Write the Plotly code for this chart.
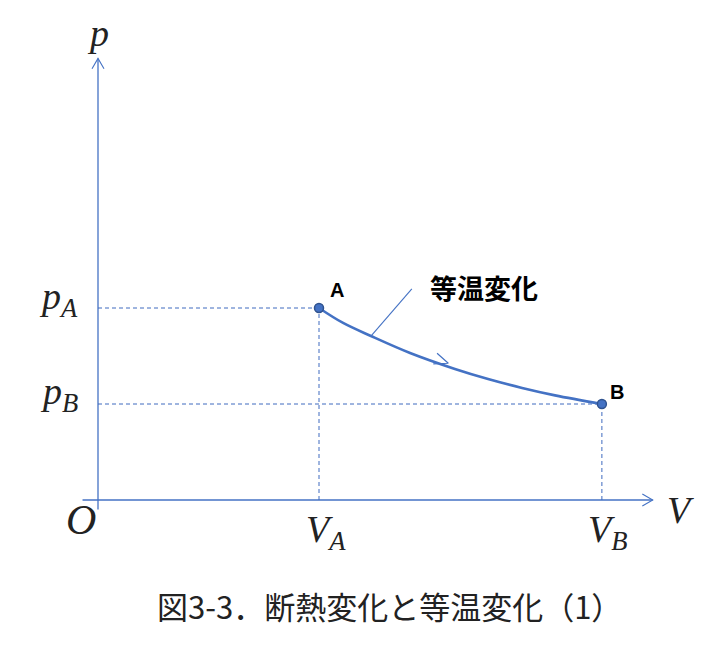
import numpy as np
import plotly.graph_objects as go

# ---------------- data ----------------
V_A, V_B = 1.0, 2.28
p_A, p_B = 2.0, 1.0
curve_V = [1.0, 1.109, 1.235, 1.412, 1.615, 1.765, 1.919, 2.068, 2.28]
curve_p = [2.0, 1.844, 1.708, 1.531, 1.365, 1.26, 1.167, 1.09, 1.0]
V_axis_end, p_axis_end = 2.51, 4.60
V_axis_tail, p_axis_tail = -0.07, -0.10
flow_arrow_V = 1.585
callout_V = 1.235
callout_end = (1.42, 2.20)
point_labels = ["A", "B"]
curve_label = "等温変化"
caption = "図3-3．断熱変化と等温変化（1）"

# ---------------- geometry ----------------
WIN_W, WIN_H = 724, 653
OFF = 8                      # default page body margin
FW, FH = WIN_W - 2 * OFF, WIN_H - 2 * OFF
X0, Y0 = 98, 500             # window pixel position of origin
SX, SY = 221, 96             # pixels per unit
xr = [-(X0 - OFF) / SX, (OFF + FW - X0) / SX]
yr = [-(OFF + FH - Y0) / SY, (Y0 - OFF) / SY]
BLUE = "#4472C4"


def px(V, p):
    return X0 + V * SX, Y0 - p * SY


def dat(x, y):
    return (x - X0) / SX, (Y0 - y) / SY


def chevron(tipV, tipp, dx, dy, L, ang_deg):
    tx, ty = px(tipV, tipp)
    n = np.hypot(dx, dy)
    ux, uy = dx / n, dy / n
    ang = np.radians(ang_deg)
    xs, ys = [], []
    for s in (1, -1):
        c, si = np.cos(s * ang), np.sin(s * ang)
        bx = -(ux * c - uy * si)
        by = -(ux * si + uy * c)
        xs.append(tx + L * bx)
        ys.append(ty + L * by)
    X = [xs[0], tx, xs[1]]
    Y = [ys[0], ty, ys[1]]
    V = [dat(a, b)[0] for a, b in zip(X, Y)]
    P = [dat(a, b)[1] for a, b in zip(X, Y)]
    return V, P


fig = go.Figure()


def line(x, y, width=1.3, dash=None, color=BLUE):
    fig.add_trace(go.Scatter(x=x, y=y, mode="lines", hoverinfo="skip",
                             line=dict(color=color, width=width, dash=dash)))


# axes
line([V_axis_tail, V_axis_end], [0, 0])
line([0, 0], [p_axis_tail, p_axis_end])
v, p = chevron(V_axis_end, 0, 1, 0, 12, 30)
line(v, p, width=1.1)
v, p = chevron(0, p_axis_end, 0, -1, 12, 30)
line(v, p, width=1.1)

# dashed guides
DASH = "4px,3px"
line([0, V_A], [p_A, p_A], 1, DASH, "#3F6BBF")
line([0, V_B], [p_B, p_B], 1, DASH, "#3F6BBF")
line([V_A, V_A], [0, p_A], 1, DASH, "#3F6BBF")
line([V_B, V_B], [0, p_B], 1, DASH, "#3F6BBF")

# isothermal curve
fig.add_trace(go.Scatter(x=curve_V, y=curve_p, mode="lines", hoverinfo="skip",
                         line=dict(color=BLUE, width=2.6, shape="spline", smoothing=1.0)))

# flow arrow on the curve
cp = np.interp(flow_arrow_V, curve_V, curve_p)
c1 = np.interp(flow_arrow_V - 0.03, curve_V, curve_p)
c2 = np.interp(flow_arrow_V + 0.03, curve_V, curve_p)
v, p = chevron(flow_arrow_V, cp + 0.035, 0.06 * SX, -(c2 - c1) * SY, 15, 22)
line(v, p, width=1.2)

# callout line
cp2 = np.interp(callout_V, curve_V, curve_p)
line([callout_V, callout_end[0]], [cp2, callout_end[1]], 1.1)

# end points
fig.add_trace(go.Scatter(x=[V_A, V_B], y=[p_A, p_B], mode="markers", hoverinfo="skip",
                         marker=dict(size=9, color=BLUE, line=dict(color="#2F528F", width=1.5))))

SERIF = "Liberation Serif"
MS = 38


def ann(x, y, text, size, family, xanchor="center", yanchor="middle", color="#222"):
    fig.add_annotation(x=x, y=y, text=text, showarrow=False, xanchor=xanchor, yanchor=yanchor,
                       font=dict(family=family, size=size, color=color))


ann(*dat(98, 33), "<i>p</i>", MS, SERIF)
ann(*dat(80, 299), "<i>p</i><sub><i>A</i></sub>", MS, SERIF, xanchor="right")
ann(*dat(80, 394), "<i>p</i><sub><i>B</i></sub>", MS, SERIF, xanchor="right")
ann(*dat(81, 520), "<i>O</i>", 42, SERIF)
ann(*dat(326, 532), "<i>V</i><sub><i>A</i></sub>", MS, SERIF)
ann(*dat(607, 532), "<i>V</i><sub><i>B</i></sub>", MS, SERIF)
ann(*dat(680, 510), "<i>V</i>", MS, SERIF)

ann(V_A + 0.08, p_A + 0.19, "<b>%s</b>" % point_labels[0], 20, "Liberation Sans", color="#000")
ann(V_B + 0.07, p_B + 0.12, "<b>%s</b>" % point_labels[1], 20, "Liberation Sans", color="#000")
ann(*dat(484, 287), "<b>%s</b>" % curve_label, 27, "Noto Sans CJK JP", color="#000")
ann(*dat(155, 605), caption, 31, "Noto Sans CJK JP", xanchor="left", color="#222")

fig.update_layout(
    width=FW, height=FH, autosize=False,
    margin=dict(l=0, r=0, t=0, b=0),
    paper_bgcolor="white", plot_bgcolor="white",
    showlegend=False,
    xaxis=dict(range=xr, visible=False, fixedrange=True),
    yaxis=dict(range=yr, visible=False, fixedrange=True),
)

fig.write_html("out.html")
